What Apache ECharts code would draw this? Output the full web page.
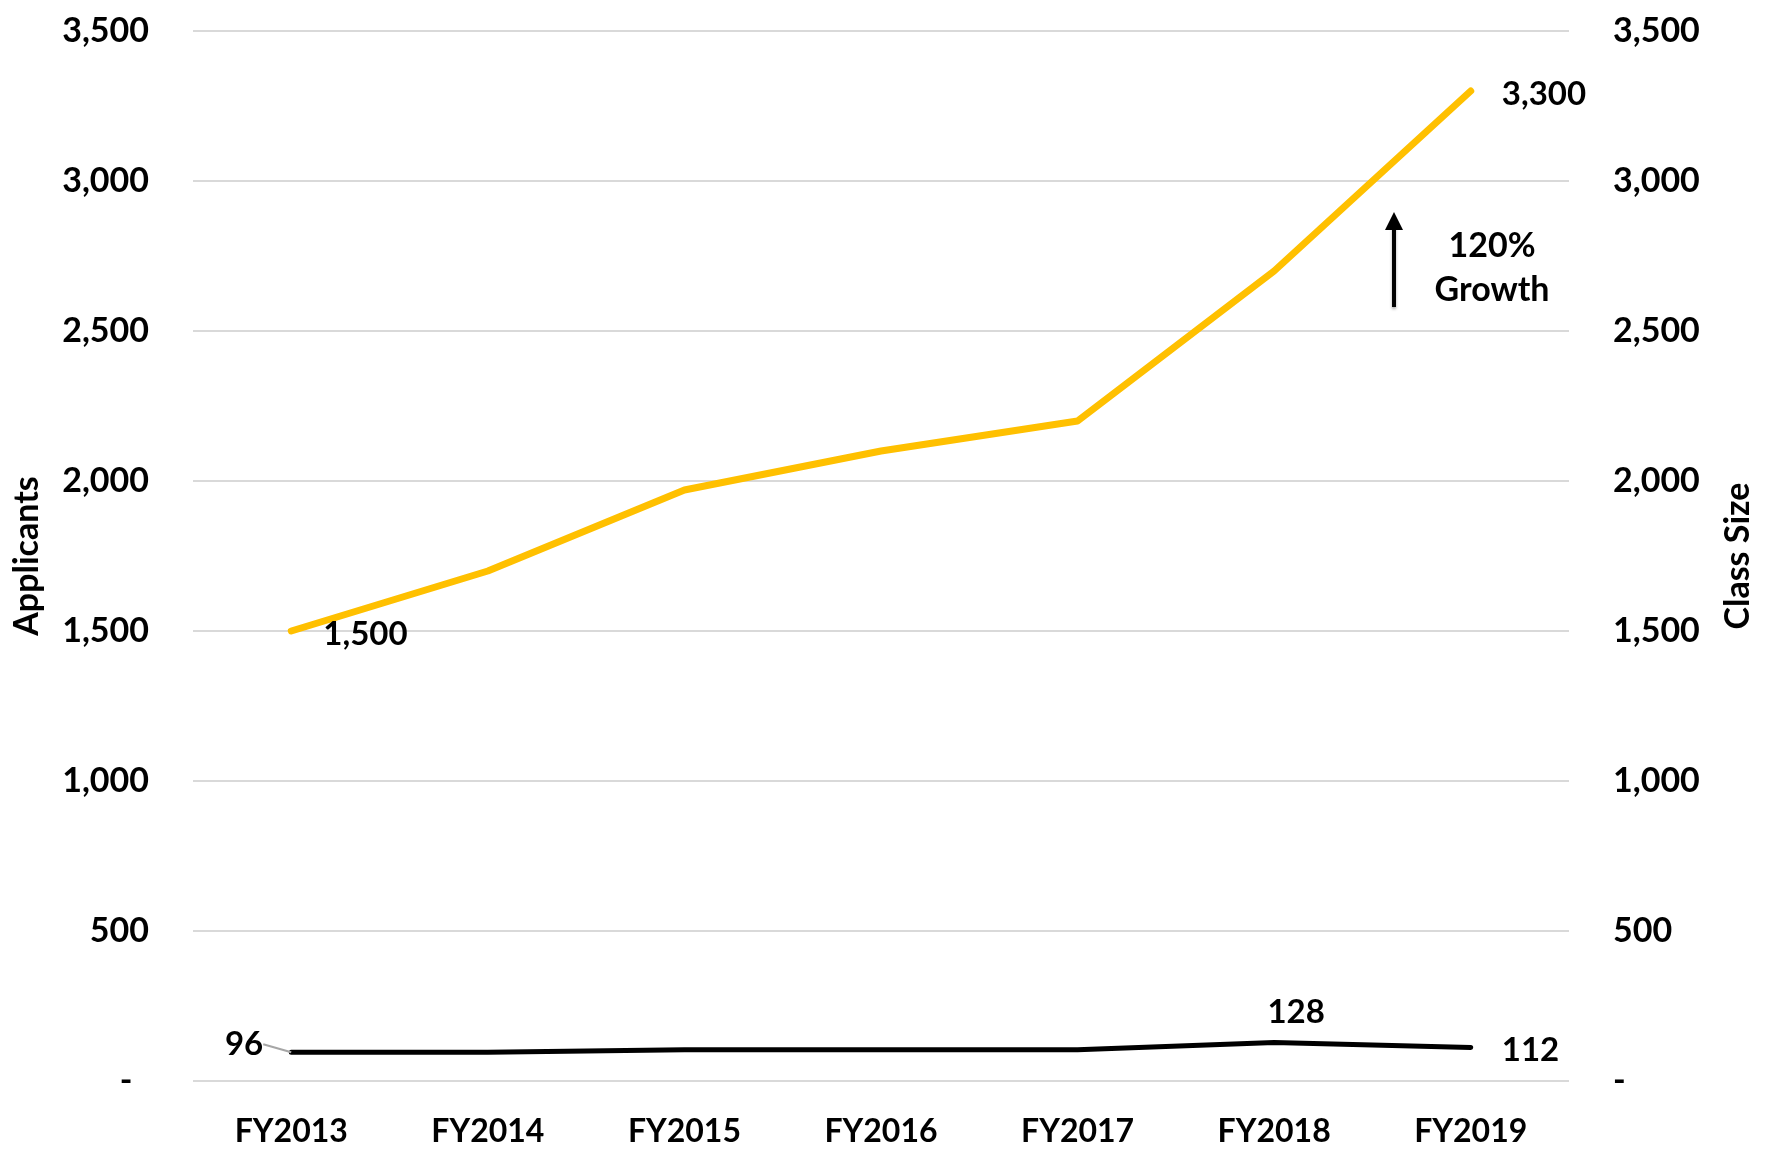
<!DOCTYPE html>
<html>
<head>
<meta charset="utf-8">
<script src="https://cdn.jsdelivr.net/npm/echarts@6/dist/echarts.min.js"></script>
<style>
    html, body { margin: 0; padding: 0; background: #fff; }
    #chart { width: 1768px; height: 1153px; }
</style>
</head>
<body>
<div id="chart"></div>
<script>
    // years on the x axis
    var years = ['FY2013', 'FY2014', 'FY2015', 'FY2016', 'FY2017', 'FY2018', 'FY2019'];
    // applicants (left axis) and class size (right axis)
    var applicants = [1500, 1700, 1970, 2100, 2200, 2700, 3300];
    var classSize = [96, 96, 104, 104, 104, 128, 112];
    var axisMax = 3500;
    var axisStep = 500;

    var font = 'Lato, "Open Sans", sans-serif';
    var txt = { color: '#000', fontFamily: font, fontWeight: 'bold', fontSize: 32 };

    function fmt(v) {
        return v.toLocaleString('en-US');
    }

    // only the first and last yellow points are labelled
    var applicantsData = applicants.map(function (v, i) {
        var item = { value: v };
        if (i === 0) {
            item.label = { show: true, position: 'right', distance: 32, offset: [0, 3] };
        } else if (i === applicants.length - 1) {
            item.label = { show: true, position: 'right', distance: 31, offset: [0, 3] };
        }
        return item;
    });

    var classData = classSize.map(function (v, i) {
        var item = { value: v };
        if (i === 0) {
            item.label = { show: true, position: 'left', distance: 4 };
            item.labelLine = { show: true, lineStyle: { color: '#a6a6a6', width: 2 } };
        } else if (i === 5) {
            item.label = { show: true, position: 'top', distance: 14 };
        } else if (i === classSize.length - 1) {
            item.label = { show: true, position: 'right', distance: 31 };
        }
        return item;
    });

    var myChart = echarts.init(document.getElementById('chart'));
    myChart.setOption({
        animation: false,
        textStyle: { fontFamily: font },
        grid: { left: 193, right: 199, top: 31, bottom: 72 },
        xAxis: {
            type: 'category',
            data: years,
            boundaryGap: true,
            axisLine: { show: false },
            axisTick: { show: false },
            axisLabel: Object.assign({ margin: 35 }, txt)
        },
        yAxis: [
            {
                type: 'value',
                min: 0, max: axisMax, interval: axisStep,
                name: 'Applicants',
                nameLocation: 'middle',
                nameRotate: 90,
                nameGap: 149,
                nameTextStyle: Object.assign({}, txt, { fontSize: 34 }),
                axisLine: { show: false },
                axisTick: { show: false },
                splitLine: { lineStyle: { color: '#d9d9d9', width: 2 } },
                axisLabel: Object.assign({
                    margin: 44,
                    formatter: function (v) { return v === 0 ? '-  ' : fmt(v); }
                }, txt, { fontSize: 34 })
            },
            {
                type: 'value',
                position: 'right',
                min: 0, max: axisMax, interval: axisStep,
                name: 'Class Size',
                nameLocation: 'middle',
                nameRotate: 90,
                nameGap: 152,
                nameTextStyle: Object.assign({}, txt, { fontSize: 34 }),
                axisLine: { show: false },
                axisTick: { show: false },
                splitLine: { show: false },
                axisLabel: Object.assign({
                    margin: 44,
                    formatter: function (v) { return v === 0 ? '-' : fmt(v); }
                }, txt, { fontSize: 34 })
            }
        ],
        series: [
            {
                name: 'Applicants',
                type: 'line',
                yAxisIndex: 0,
                data: applicantsData,
                symbol: 'circle',
                symbolSize: 0.1,
                itemStyle: { color: '#ffc000' },
                lineStyle: { color: '#ffc000', width: 7, cap: 'round' },
                label: Object.assign({ show: false, formatter: function (p) { return fmt(p.value); } }, txt, { fontSize: 33 })
            },
            {
                name: 'Class Size',
                type: 'line',
                yAxisIndex: 1,
                data: classData,
                symbol: 'circle',
                symbolSize: 0.1,
                itemStyle: { color: '#000' },
                lineStyle: { color: '#000', width: 5, cap: 'round' },
                label: Object.assign({ show: false, formatter: function (p) { return fmt(p.value); } }, txt, { fontSize: 33 }),
                // "96" pulled up-left so its leader line shows, "128" nudged right, "112" down
                labelLayout: function (p) {
                    if (p.dataIndex === 0) return { dx: -24, dy: -8 };
                    if (p.dataIndex === 5) return { dx: 22 };
                    if (p.dataIndex === 6) return { dy: 3 };
                    return {};
                }
            }
        ],
        graphic: [
            // growth arrow annotation
            {
                type: 'line',
                shape: { x1: 1394, y1: 307, x2: 1394, y2: 226 },
                style: { stroke: '#000', lineWidth: 4, shadowBlur: 3, shadowColor: 'rgba(0,0,0,0.35)', shadowOffsetY: 2 }
            },
            {
                type: 'polygon',
                shape: { points: [[1394, 212], [1385, 230], [1403, 230]] },
                style: { fill: '#000' }
            },
            {
                type: 'text',
                x: 1492, y: 268,
                style: {
                    text: '120%\nGrowth',
                    fill: '#000',
                    font: 'bold 34px ' + font,
                    lineHeight: 44,
                    align: 'center',
                    verticalAlign: 'middle'
                }
            }
        ]
    });
    window.onresize = myChart.resize;
</script>
</body>
</html>
